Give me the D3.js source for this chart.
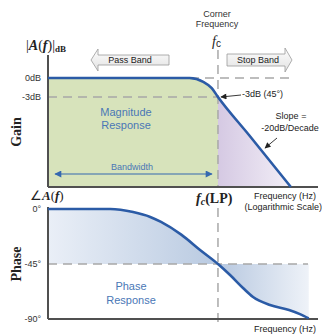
<!DOCTYPE html>
<html>
<head>
<meta charset="utf-8">
<script src="https://cdn.jsdelivr.net/npm/d3@7"></script>
<style>
  body { margin: 0; background: #fff; }
  svg { display: block; }
  text { font-family: "Liberation Sans", Arial, sans-serif; }
  .serif { font-family: "Liberation Serif", "Times New Roman", serif; }
</style>
</head>
<body>
<script>
const width = 322;
const height = 334;

// gain curve (f / fc, dB)
const gainFreq = [0.0224, 0.3, 0.53, 0.72, 0.87, 1, 2, 5.1];
const gainDb = [0, 0, 0, -0.6, -1.6, -3, -9, -17.2];

// phase curve (f / fc, degrees)
const phaseFreq = [0.0224, 0.09, 0.15, 0.22, 0.28, 0.44, 0.68, 1, 1.31, 1.75, 2.19, 3.2, 4.9, 6.25, 7.6];
const phaseDeg = [0, 0, -2.5, -6.5, -10.6, -21, -34, -45, -54, -64.6, -72, -78.6, -82.6, -86, -89.5];

const gainTicks = [0, -3];
const gainTickLabels = ['0dB', '-3dB'];
const phaseTicks = [0, -45, -90];
const phaseTickLabels = ['0°', '-45°', '-90°'];

const cornerFreq = 1;
const freqDomain = [0.0224, 9.35];

const svg = d3.select('body').append('svg')
  .attr('width', width)
  .attr('height', height);

const x = d3.scaleLog().domain(freqDomain).range([48, 318]);
const yGain = d3.scaleLinear().domain([-17.2, 0]).range([187, 78]);
const yPhase = d3.scaleLinear().domain([-90, 0]).range([319, 209]);

const fcX = x(cornerFreq);
const gainData = gainFreq.map((f, i) => ({ f, v: gainDb[i] }));
const phaseData = phaseFreq.map((f, i) => ({ f, v: phaseDeg[i] }));

const defs = svg.append('defs');

function hGrad(id, x1, x2, c1, c2) {
  const g = defs.append('linearGradient').attr('id', id)
    .attr('gradientUnits', 'userSpaceOnUse')
    .attr('x1', x1).attr('x2', x2).attr('y1', 0).attr('y2', 0);
  g.append('stop').attr('offset', 0).attr('stop-color', c1);
  g.append('stop').attr('offset', 1).attr('stop-color', c2);
}
hGrad('purple', fcX, 300, '#d5c9e3', '#f6f3f9');
hGrad('phaseLeft', 48, fcX, '#eaeff7', '#b9cae1');
hGrad('phaseRight', fcX, 308, '#b7c8e0', '#eef2f8');

const vg = defs.append('linearGradient').attr('id', 'arrowFill')
  .attr('x1', 0).attr('x2', 0).attr('y1', 0).attr('y2', 1);
vg.append('stop').attr('offset', 0).attr('stop-color', '#fdfdfd');
vg.append('stop').attr('offset', 1).attr('stop-color', '#e2e2e2');

defs.append('clipPath').attr('id', 'leftClip')
  .append('rect').attr('x', 0).attr('y', 0).attr('width', fcX).attr('height', height);
defs.append('clipPath').attr('id', 'rightClip')
  .append('rect').attr('x', fcX).attr('y', 0).attr('width', width - fcX).attr('height', height);

function marker(id, color, w, h) {
  defs.append('marker').attr('id', id)
    .attr('viewBox', '0 0 10 10').attr('refX', 9).attr('refY', 5)
    .attr('markerUnits', 'userSpaceOnUse')
    .attr('markerWidth', w).attr('markerHeight', h)
    .attr('orient', 'auto-start-reverse')
    .append('path').attr('d', 'M0,0L10,5L0,10Z').attr('fill', color);
}
marker('blueHead', '#3568b0', 9, 7);
marker('blackHead', '#222', 7, 6);

// ---------- gain panel ----------
const gainArea = d3.area()
  .x(d => x(d.f)).y0(yGain(-17.2)).y1(d => yGain(d.v))
  .curve(d3.curveMonotoneX);

svg.append('path').datum(gainData)
  .attr('d', gainArea).attr('fill', '#d7e3bb')
  .attr('clip-path', 'url(#leftClip)');
svg.append('path').datum(gainData)
  .attr('d', gainArea).attr('fill', 'url(#purple)')
  .attr('clip-path', 'url(#rightClip)');

const dash = { stroke: '#a8a8a8', width: 1.5, array: '9,6' };
function dashed(x1, y1, x2, y2) {
  svg.append('line')
    .attr('x1', x1).attr('y1', y1).attr('x2', x2).attr('y2', y2)
    .attr('stroke', dash.stroke).attr('stroke-width', dash.width)
    .attr('stroke-dasharray', dash.array);
}
dashed(48, yGain(-3), fcX, yGain(-3));
dashed(190, yGain(0), 291, yGain(0));
dashed(fcX, 50, fcX, 187);

// ---------- phase panel ----------
const phaseArea = d3.area()
  .x(d => x(d.f)).y0(yPhase(-45)).y1(d => yPhase(d.v))
  .curve(d3.curveMonotoneX);

svg.append('path').datum(phaseData)
  .attr('d', phaseArea).attr('fill', 'url(#phaseLeft)')
  .attr('clip-path', 'url(#leftClip)');
svg.append('path').datum(phaseData)
  .attr('d', phaseArea).attr('fill', 'url(#phaseRight)')
  .attr('clip-path', 'url(#rightClip)');

dashed(48, yPhase(-45), 308, yPhase(-45));
dashed(fcX, 208, fcX, 325);

// axes lines
const axisColor = '#505050';
[[48, 55, 48, 187], [48, 187, 318, 187], [48, 207, 48, 319], [48, 319, 318, 319]].forEach(l => {
  svg.append('line')
    .attr('x1', l[0]).attr('y1', l[1]).attr('x2', l[2]).attr('y2', l[3])
    .attr('stroke', axisColor).attr('stroke-width', 2);
});

// tick labels via d3 axis
const gainAxis = svg.append('g').attr('transform', 'translate(48,0)')
  .call(d3.axisLeft(yGain).tickValues(gainTicks).tickSize(0).tickPadding(7)
    .tickFormat((d, i) => gainTickLabels[i]));
const phaseAxis = svg.append('g').attr('transform', 'translate(48,0)')
  .call(d3.axisLeft(yPhase).tickValues(phaseTicks).tickSize(0).tickPadding(7)
    .tickFormat((d, i) => phaseTickLabels[i]));
[gainAxis, phaseAxis].forEach(a => {
  a.select('.domain').remove();
  a.selectAll('text').attr('font-family', '"Liberation Sans", Arial, sans-serif')
    .attr('font-size', 9).attr('fill', '#333');
});

// curves
const line = yScale => d3.line().x(d => x(d.f)).y(d => yScale(d.v)).curve(d3.curveMonotoneX);
svg.append('path').datum(gainData)
  .attr('d', line(yGain)).attr('fill', 'none')
  .attr('stroke', '#2b5ba6').attr('stroke-width', 2.6);
svg.append('path').datum(phaseData)
  .attr('d', line(yPhase)).attr('fill', 'none')
  .attr('stroke', '#2b5ba6').attr('stroke-width', 2.6);

// ---------- block arrows ----------
svg.append('path')
  .attr('d', 'M91,60L98,49L98,55L169,55L169,65L98,65L98,71Z')
  .attr('fill', 'url(#arrowFill)').attr('stroke', '#9a9a9a').attr('stroke-width', 0.8);
svg.append('path')
  .attr('d', 'M227,54L285,54L285,48L292,60L285,72L285,66L227,66Z')
  .attr('fill', 'url(#arrowFill)').attr('stroke', '#9a9a9a').attr('stroke-width', 0.8);

// bandwidth arrow
svg.append('line')
  .attr('x1', 55).attr('y1', 174).attr('x2', 212).attr('y2', 174)
  .attr('stroke', '#3568b0').attr('stroke-width', 1.2)
  .attr('marker-start', 'url(#blueHead)').attr('marker-end', 'url(#blueHead)');

// pointer arrows
svg.append('line')
  .attr('x1', 241).attr('y1', 95).attr('x2', 221).attr('y2', 97)
  .attr('stroke', '#222').attr('stroke-width', 0.9)
  .attr('marker-end', 'url(#blackHead)');
svg.append('line')
  .attr('x1', 277).attr('y1', 138).attr('x2', 265).attr('y2', 148)
  .attr('stroke', '#222').attr('stroke-width', 0.9)
  .attr('marker-end', 'url(#blackHead)');

// ---------- text ----------
function label(tx, ty, str, opts = {}) {
  return svg.append('text')
    .attr('x', tx).attr('y', ty)
    .attr('font-size', opts.size || 9)
    .attr('fill', opts.color || '#333')
    .attr('text-anchor', opts.anchor || 'start')
    .text(str);
}
const blueText = '#4a77b6';
label(217, 17, 'Corner', { anchor: 'middle' });
label(217, 27, 'Frequency', { anchor: 'middle' });
label(130, 63, 'Pass Band', { anchor: 'middle', color: '#222' });
label(258, 63, 'Stop Band', { anchor: 'middle', color: '#222' });
label(126, 116, 'Magnitude', { anchor: 'middle', size: 11, color: blueText });
label(126, 129, 'Response', { anchor: 'middle', size: 11, color: blueText });
label(132, 170, 'Bandwidth', { anchor: 'middle', color: blueText });
label(242, 97, '-3dB (45°)', { color: '#222' });
label(291, 119, 'Slope =', { anchor: 'middle', color: '#222' });
label(290, 131, '-20dB/Decade', { anchor: 'middle', color: '#222' });
label(316, 199, 'Frequency (Hz)', { anchor: 'end', color: '#222' });
label(322, 210, '(Logarithmic Scale)', { anchor: 'end', color: '#222' });
label(316, 332, 'Frequency (Hz)', { anchor: 'end', color: '#222' });
label(131, 290, 'Phase', { anchor: 'middle', size: 11, color: blueText });
label(131, 304, 'Response', { anchor: 'middle', size: 11, color: blueText });

// serif math labels
const t1 = svg.append('text').attr('class', 'serif').attr('x', 26).attr('y', 50)
  .attr('font-size', 14).attr('fill', '#222');
t1.append('tspan').text('|');
t1.append('tspan').attr('font-style', 'italic').attr('font-weight', 'bold').text('A');
t1.append('tspan').text('(');
t1.append('tspan').attr('font-style', 'italic').attr('font-weight', 'bold').text('f');
t1.append('tspan').text(')|');
t1.append('tspan').attr('font-size', 9).attr('font-weight', 'bold').attr('dy', 2).text('dB');

const t2 = svg.append('text').attr('class', 'serif').attr('x', 30).attr('y', 200)
  .attr('font-size', 13).attr('fill', '#222');
t2.append('tspan').text('∠');
t2.append('tspan').attr('font-style', 'italic').attr('font-weight', 'bold').text('A');
t2.append('tspan').text('(');
t2.append('tspan').attr('font-style', 'italic').attr('font-weight', 'bold').text('f');
t2.append('tspan').text(')');

const t3 = svg.append('text').attr('class', 'serif').attr('x', 212).attr('y', 46)
  .attr('font-size', 14).attr('fill', '#222');
t3.append('tspan').attr('font-style', 'italic').text('f');
t3.append('tspan').attr('font-size', 10).attr('dy', 1)
  .attr('font-family', '"Liberation Sans", Arial, sans-serif').text('c');

const t4 = svg.append('text').attr('class', 'serif').attr('x', 196).attr('y', 203)
  .attr('font-size', 14).attr('fill', '#222').attr('font-weight', 'bold');
t4.append('tspan').attr('font-style', 'italic').text('f');
t4.append('tspan').attr('font-style', 'italic').attr('font-size', 10).attr('dy', 2).text('c');
t4.append('tspan').attr('dy', -2).text('(LP)');

svg.append('text').attr('class', 'serif')
  .attr('transform', 'translate(21,132) rotate(-90)')
  .attr('text-anchor', 'middle').attr('font-size', 14).attr('font-weight', 'bold')
  .attr('fill', '#222').text('Gain');
svg.append('text').attr('class', 'serif')
  .attr('transform', 'translate(21,264) rotate(-90)')
  .attr('text-anchor', 'middle').attr('font-size', 14).attr('font-weight', 'bold')
  .attr('fill', '#222').text('Phase');
</script>
</body>
</html>
